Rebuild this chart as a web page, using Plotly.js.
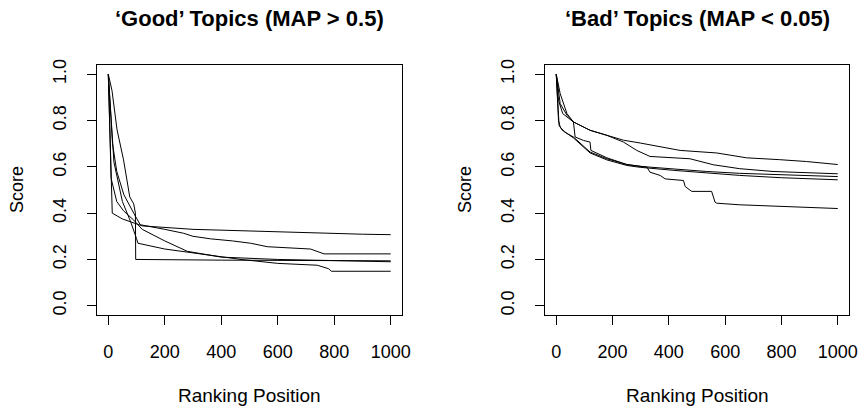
<!DOCTYPE html>
<html>
<head>
<meta charset="utf-8">
<script src="https://cdn.plot.ly/plotly-3.0.1.min.js"></script>
<style>html,body{margin:0;padding:0;background:#fff;}#chart{width:861px;height:407px;}</style>
</head>
<body>
<div id="chart"></div>
<script>
// ---- Data: 'Good' topics (MAP > 0.5) ----
const goodA_rank  = [0, 12, 14, 50, 120, 300, 600, 900, 1000];
const goodA_score = [1.0, 0.42, 0.40, 0.375, 0.345, 0.33, 0.318, 0.309, 0.307];
const goodB_rank  = [0, 15, 30, 55, 90, 113, 200, 267, 300, 362, 440, 504, 563, 716, 764, 1000];
const goodB_score = [1.0, 0.70, 0.58, 0.48, 0.40, 0.35, 0.33, 0.313, 0.30, 0.289, 0.28, 0.270, 0.255, 0.245, 0.224, 0.224];
const goodC_rank  = [0, 10, 30, 54, 90, 120, 200, 280, 400, 600, 800, 1000];
const goodC_score = [1.0, 0.55, 0.45, 0.41, 0.37, 0.33, 0.28, 0.235, 0.21, 0.20, 0.195, 0.190];
const goodD_rank  = [0, 20, 50, 80, 100, 105, 200, 280, 400, 470, 600, 740, 780, 790, 1000];
const goodD_score = [1.0, 0.62, 0.45, 0.36, 0.29, 0.27, 0.245, 0.232, 0.21, 0.20, 0.183, 0.175, 0.16, 0.149, 0.149];
const goodE_rank  = [0, 13, 31, 54, 76, 90, 96, 97, 400, 700, 1000];
const goodE_score = [1.0, 0.93, 0.76, 0.63, 0.47, 0.44, 0.40, 0.20, 0.197, 0.195, 0.194];

// ---- Data: 'Bad' topics (MAP < 0.05) ----
const badA_rank  = [0, 14, 38, 61, 120, 180, 239, 298, 357, 440, 570, 676, 794, 889, 1000];
const badA_score = [1.0, 0.916, 0.83, 0.794, 0.758, 0.736, 0.715, 0.703, 0.689, 0.671, 0.660, 0.639, 0.631, 0.623, 0.610];
const badB_rank  = [0, 8, 23, 61, 120, 180, 239, 286, 333, 475, 558, 652, 770, 1000];
const badB_score = [1.0, 0.887, 0.83, 0.794, 0.758, 0.736, 0.707, 0.671, 0.645, 0.635, 0.609, 0.592, 0.580, 0.570];
const badC_rank  = [0, 5, 8, 14, 30, 61, 120, 180, 251, 298, 416, 534, 652, 800, 1000];
const badC_score = [1.0, 0.85, 0.80, 0.772, 0.75, 0.729, 0.664, 0.635, 0.610, 0.602, 0.590, 0.580, 0.572, 0.565, 0.558];
const badD_rank  = [0, 6, 10, 20, 61, 120, 180, 251, 298, 416, 534, 652, 800, 1000];
const badD_score = [1.0, 0.82, 0.78, 0.76, 0.725, 0.660, 0.630, 0.606, 0.598, 0.585, 0.573, 0.563, 0.553, 0.544];
const badE_rank  = [0, 8, 14, 38, 61, 67, 97, 120, 123, 180, 251, 322, 333, 369, 387, 452, 458, 481, 552, 564, 570, 652, 1000];
const badE_score = [1.0, 0.916, 0.873, 0.823, 0.794, 0.729, 0.714, 0.707, 0.671, 0.639, 0.610, 0.599, 0.577, 0.563, 0.548, 0.541, 0.515, 0.494, 0.494, 0.448, 0.443, 0.436, 0.420];

const xTicks = [0, 200, 400, 600, 800, 1000];
const yTicks = [0, 0.2, 0.4, 0.6, 0.8, 1.0];
const panelTitles = ["\u2018Good\u2019 Topics (MAP > 0.5)", "\u2018Bad\u2019 Topics (MAP < 0.05)"];
const xTitle = "Ranking Position";
const yTitle = "Score";

const W = 861, H = 407;
const FONT = "Liberation Sans, Arial, Helvetica, sans-serif";
const lineStyle = {color: "#000", width: 1};

function tr(x, y, ax) {
  return {x: x, y: y, type: "scatter", mode: "lines", line: lineStyle,
          xaxis: ax === 1 ? "x" : "x2", yaxis: ax === 1 ? "y" : "y2",
          showlegend: false, hoverinfo: "skip"};
}
const traces = [
  tr(goodA_rank, goodA_score, 1), tr(goodB_rank, goodB_score, 1), tr(goodC_rank, goodC_score, 1),
  tr(goodD_rank, goodD_score, 1), tr(goodE_rank, goodE_score, 1),
  tr(badA_rank, badA_score, 2), tr(badB_rank, badB_score, 2), tr(badC_rank, badC_score, 2),
  tr(badD_rank, badD_score, 2), tr(badE_rank, badE_score, 2)
];

const px = v => v / W, py = v => 1 - v / H;
const boxTop = 65, boxBot = 315;
const panels = [[97, 402], [545, 849]];

function xa(dom) {
  return {domain: dom, range: [-40, 1040], tickmode: "array", tickvals: xTicks,
    ticktext: xTicks.map(String), ticks: "outside", ticklen: 9, tickwidth: 1, tickcolor: "#000",
    showline: true, mirror: true, linecolor: "#000", linewidth: 1, showgrid: false, zeroline: false,
    tickfont: {family: FONT, size: 18, color: "#000"}, ticklabelstandoff: 11, fixedrange: true};
}
function ya(anchor) {
  return {domain: [py(boxBot), py(boxTop)], range: [-0.04, 1.04], tickmode: "array", tickvals: yTicks,
    ticktext: yTicks.map(v => v.toFixed(1)), ticks: "outside", ticklen: 9, tickwidth: 1, tickcolor: "#000",
    tickangle: -90, anchor: anchor,
    showline: true, mirror: true, linecolor: "#000", linewidth: 1, showgrid: false, zeroline: false,
    tickfont: {family: FONT, size: 18, color: "#000"}, ticklabelstandoff: 14, fixedrange: true};
}

const annotations = [];
panels.forEach((p, i) => {
  const cx = (p[0] + p[1]) / 2;
  annotations.push({text: "<b>" + panelTitles[i] + "</b>", xref: "paper", yref: "paper",
    x: px(cx), y: py(18), xanchor: "center", yanchor: "middle", showarrow: false,
    font: {family: FONT, size: 22, color: "#000"}});
  annotations.push({text: xTitle, xref: "paper", yref: "paper",
    x: px(cx), y: py(395), xanchor: "center", yanchor: "middle", showarrow: false,
    font: {family: FONT, size: 19, color: "#000"}});
  annotations.push({text: yTitle, xref: "paper", yref: "paper",
    x: px(p[0] - 80), y: py((boxTop + boxBot) / 2), xanchor: "center", yanchor: "middle",
    textangle: -90, showarrow: false, font: {family: FONT, size: 18, color: "#000"}});
});

const layout = {
  width: W, height: H, margin: {l: 0, r: 0, t: 0, b: 0},
  paper_bgcolor: "#fff", plot_bgcolor: "#fff", showlegend: false,
  font: {family: FONT, color: "#000"},
  xaxis: xa([px(panels[0][0]), px(panels[0][1])]),
  yaxis: ya("x"),
  xaxis2: Object.assign(xa([px(panels[1][0]), px(panels[1][1])]), {anchor: "y2"}),
  yaxis2: ya("x2"),
  annotations: annotations
};
layout.xaxis.anchor = "y";

Plotly.newPlot("chart", traces, layout, {staticPlot: true, displayModeBar: false});
</script>
</body>
</html>
